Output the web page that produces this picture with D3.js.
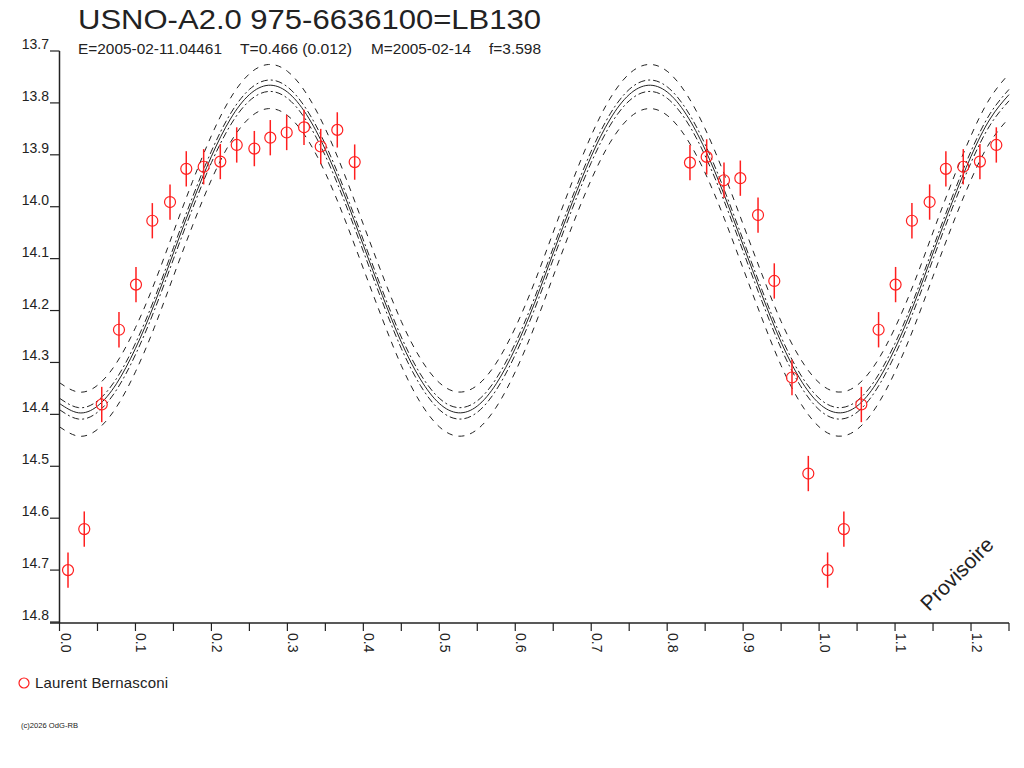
<!DOCTYPE html>
<html lang="fr">
<head>
    <meta charset="UTF-8">
    <title>USNO-A2.0 975-6636100=LB130</title>
    <script src="https://d3js.org/d3.v7.min.js"></script>
    <style>
        body {
            margin: 0;
            background: #fff;
        }
        text {
            font-family: "Liberation Sans", Arial, sans-serif;
            fill: #222;
        }
    </style>
</head>
<body>
    <svg id="chart" width="1024" height="768"></svg>

    <script>
        const obsPhase = [0.0112, 0.0326, 0.0556, 0.0783, 0.1007, 0.1222, 0.1455, 0.1669, 0.1898,
            0.2117, 0.2333, 0.2565, 0.2775, 0.2991, 0.3219, 0.3439, 0.3657, 0.3886,
            0.8300, 0.8520, 0.8748, 0.8963, 0.9196, 0.9410, 0.9643, 0.9858];
        const obsMag = [14.700, 14.621, 14.381, 14.237, 14.150, 14.027, 13.991, 13.927, 13.923,
            13.913, 13.881, 13.888, 13.867, 13.857, 13.847, 13.884, 13.852, 13.914,
            13.915, 13.904, 13.949, 13.945, 14.016, 14.143, 14.329, 14.514];
        const obsErr = [0.034, 0.034, 0.034, 0.034, 0.034, 0.034, 0.034, 0.034, 0.034,
            0.034, 0.034, 0.034, 0.034, 0.034, 0.034, 0.034, 0.034, 0.034,
            0.034, 0.034, 0.034, 0.034, 0.034, 0.034, 0.034, 0.034];

        // fitted model, sampled every 0.025 in phase from 0 to 1.25
        const modelStep = 0.025;
        const modelMag = [14.379, 14.397, 14.384, 14.341, 14.273, 14.187, 14.089, 13.992, 13.903, 13.831,
            13.784, 13.766, 13.779, 13.822, 13.890, 13.977, 14.074, 14.171, 14.261, 14.332,
            14.379, 14.397, 14.384, 14.341, 14.273, 14.187, 14.089, 13.992, 13.903, 13.831,
            13.784, 13.766, 13.779, 13.822, 13.890, 13.977, 14.074, 14.171, 14.261, 14.332,
            14.379, 14.397, 14.384, 14.341, 14.273, 14.187, 14.089, 13.992, 13.903, 13.831,
            13.784];
        // envelope curves around the model (mag offsets) and their dash style
        const bandOffsets = [-0.040, -0.010, 0, 0.012, 0.045];
        const bandDash = ["6,6", "7,3,2,3", null, "7,3,2,3", "6,6"];

        const xTicks = [0, 0.1, 0.2, 0.3, 0.4, 0.5, 0.6, 0.7, 0.8, 0.9, 1.0, 1.1, 1.2];
        const xMinorTicks = [0.05, 0.15, 0.25, 0.35, 0.45, 0.55, 0.65, 0.75, 0.85, 0.95, 1.05, 1.15, 1.25];
        const yTicks = [13.7, 13.8, 13.9, 14.0, 14.1, 14.2, 14.3, 14.4, 14.5, 14.6, 14.7, 14.8];

        const title = "USNO-A2.0 975-6636100=LB130";
        const subtitle = ["E=2005-02-11.04461", "T=0.466 (0.012)", "M=2005-02-14", "f=3.598"];
        const observer = "Laurent Bernasconi";

        const red = "#ff1f1f";
        const ink = "#222";

        const svg = d3.select("#chart");

        const x = d3.scaleLinear().domain([0, 1.25]).range([59.5, 1009]);
        const y = d3.scaleLinear().domain([13.7, 14.8]).range([51, 622]);

        // model + envelope
        const modelPhase = modelMag.map((m, i) => i * modelStep);
        const line = d3.line()
            .x(d => x(d[0]))
            .y(d => y(d[1]))
            .curve(d3.curveNatural);

        bandOffsets.forEach((off, k) => {
            const pts = modelMag.map((m, i) => [modelPhase[i], m + off]);
            svg.append("path")
                .attr("d", line(pts))
                .attr("fill", "none")
                .attr("stroke", ink)
                .attr("stroke-width", 1)
                .attr("stroke-dasharray", bandDash[k]);
        });

        // observations, repeated one cycle later where it still fits
        const obs = [];
        obsPhase.forEach((p, i) => {
            obs.push({ p: p, m: obsMag[i], e: obsErr[i] });
            if (p + 1 <= 1.25) obs.push({ p: p + 1, m: obsMag[i], e: obsErr[i] });
        });

        const pts = svg.append("g");
        pts.selectAll("line")
            .data(obs)
            .enter().append("line")
            .attr("x1", d => x(d.p))
            .attr("x2", d => x(d.p))
            .attr("y1", d => y(d.m - d.e))
            .attr("y2", d => y(d.m + d.e))
            .attr("stroke", red)
            .attr("stroke-width", 1.5);
        pts.selectAll("circle")
            .data(obs)
            .enter().append("circle")
            .attr("cx", d => x(d.p))
            .attr("cy", d => y(d.m))
            .attr("r", 5.5)
            .attr("fill", "none")
            .attr("stroke", red)
            .attr("stroke-width", 1.2);

        // x axis
        const xAxis = svg.append("g").attr("transform", `translate(0,${y(14.8) + 1})`);
        xAxis.append("line")
            .attr("x1", 50).attr("x2", x(1.25))
            .attr("stroke", ink).attr("stroke-width", 1.5);
        xAxis.selectAll(".tick")
            .data(xTicks.concat(xMinorTicks))
            .enter().append("line")
            .attr("x1", d => x(d)).attr("x2", d => x(d))
            .attr("y1", 0).attr("y2", 8)
            .attr("stroke", ink).attr("stroke-width", 1.2);
        xAxis.selectAll("text")
            .data(xTicks)
            .enter().append("text")
            .attr("transform", d => `translate(${x(d) + 1},10) rotate(90)`)
            .style("font-size", "14px")
            .text(d => d.toFixed(1));

        // y axis
        const yAxis = svg.append("g");
        yAxis.append("line")
            .attr("x1", x(0)).attr("x2", x(0))
            .attr("y1", y(13.7)).attr("y2", y(14.8) + 1)
            .attr("stroke", ink).attr("stroke-width", 1.5);
        yAxis.selectAll(".tick")
            .data(yTicks)
            .enter().append("line")
            .attr("x1", 50).attr("x2", x(0))
            .attr("y1", d => y(d)).attr("y2", d => y(d))
            .attr("stroke", ink).attr("stroke-width", 1.2);
        yAxis.selectAll("text")
            .data(yTicks)
            .enter().append("text")
            .attr("x", 49)
            .attr("y", d => y(d) - 2)
            .attr("text-anchor", "end")
            .style("font-size", "14px")
            .text(d => d.toFixed(1));

        // titles
        svg.append("text")
            .attr("x", 78).attr("y", 29)
            .attr("textLength", 463)
            .attr("lengthAdjust", "spacingAndGlyphs")
            .style("font-size", "28px")
            .text(title);

        const subX = [78, 240, 371, 489];
        const subW = [144, 112, 100, 52];
        svg.selectAll(".sub")
            .data(subtitle)
            .enter().append("text")
            .attr("x", (d, i) => subX[i])
            .attr("y", 54)
            .attr("textLength", (d, i) => subW[i])
            .attr("lengthAdjust", "spacingAndGlyphs")
            .style("font-size", "14px")
            .text(d => d);

        svg.append("text")
            .attr("transform", "translate(929,612) rotate(-45)")
            .style("font-size", "21px")
            .text("Provisoire");

        // legend
        svg.append("circle")
            .attr("cx", 24).attr("cy", 683).attr("r", 5)
            .attr("fill", "none").attr("stroke", red).attr("stroke-width", 1.2);
        svg.append("text")
            .attr("x", 35).attr("y", 688)
            .attr("textLength", 133)
            .style("font-size", "15px")
            .text(observer);

        svg.append("text")
            .attr("x", 21).attr("y", 728)
            .attr("textLength", 57)
            .attr("lengthAdjust", "spacingAndGlyphs")
            .style("font-size", "7.5px")
            .text("(c)2026 OdG-RB");
    </script>
</body>
</html>
